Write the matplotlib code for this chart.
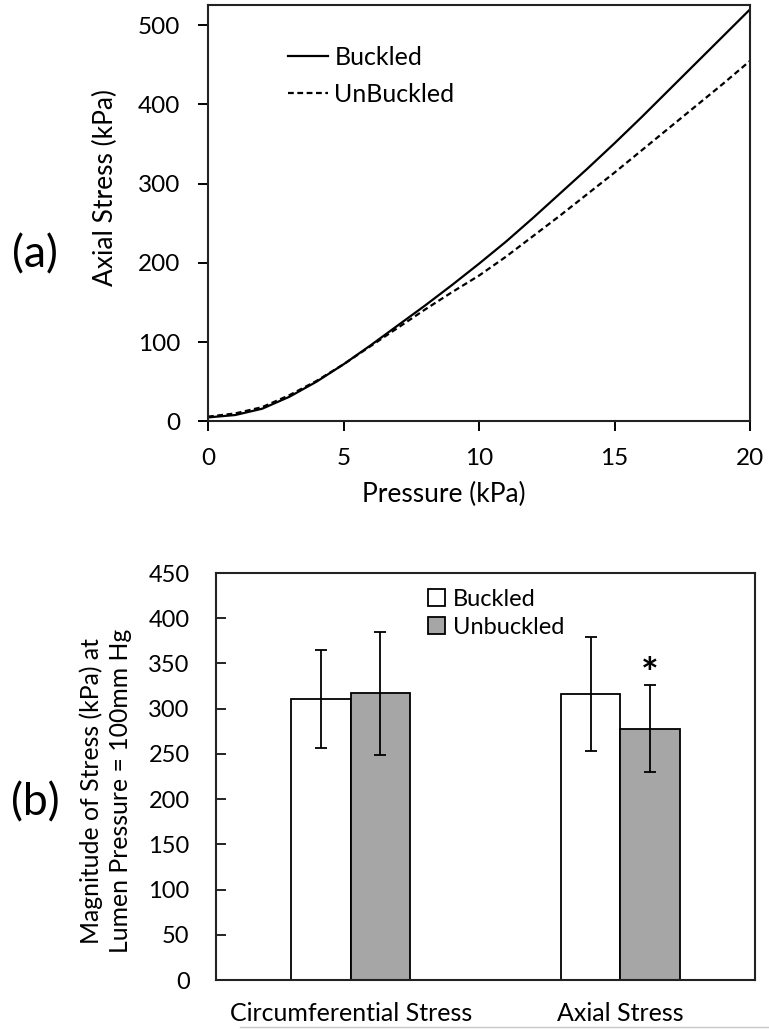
import matplotlib
matplotlib.use("Agg")
import matplotlib.pyplot as plt
from matplotlib.lines import Line2D

plt.rcParams['font.family'] = ['Lato', 'DejaVu Sans']

# ---------------- data ----------------
# (a) axial stress vs. lumen pressure
pressure = [0, 1, 2, 3, 4, 5, 6, 7, 8, 9, 10, 11, 12, 13, 14, 15, 16, 17, 18, 19, 20]
stress_buckled = [5, 8, 16, 31, 50, 72, 96, 121, 146, 172, 199, 227, 257, 288, 319,
                  351, 384, 418, 452, 486, 520]
stress_unbuckled = [6, 10, 18, 33, 51, 72, 95, 118, 141, 163, 184, 208, 234, 260, 287,
                    314, 342, 370, 398, 426, 455]

# (b) stress magnitude at 100 mmHg
categories = ['Circumferential Stress', 'Axial Stress']
bar_buckled = [311, 316]
bar_unbuckled = [317, 278]
err_buckled = [54, 63]
err_unbuckled = [68, 48]

# ---------------- figure ----------------
fig = plt.figure(figsize=(7.69, 10.29), dpi=100)

# --- (a) line plot ---
ax1 = fig.add_axes([0.2705, 0.5905, 0.7048, 0.4046])
ax1.plot(pressure, stress_buckled, color='black', lw=1.6, label='Buckled')
ax1.plot(pressure, stress_unbuckled, color='black', lw=1.6, ls=(0, (2.6, 1.6)),
         label='UnBuckled')
ax1.set_xlim(0, 20)
ax1.set_ylim(0, 525.5)
ax1.set_xticks([0, 5, 10, 15, 20])
ax1.set_yticks([0, 100, 200, 300, 400, 500])
ax1.tick_params(axis='both', direction='out', length=7, width=1.4, labelsize=17.5,
                color='black')
ax1.tick_params(axis='y', pad=13)
ax1.tick_params(axis='x', pad=12)
for sp in ax1.spines.values():
    sp.set_linewidth(1.5)
    sp.set_color('#222222')
ax1.set_xlabel('Pressure (kPa)', fontsize=19)
ax1.xaxis.set_label_coords(0.435, -0.145)
ax1.set_ylabel('Axial Stress (kPa)', fontsize=19)
ax1.yaxis.set_label_coords(-0.166, 0.5625)
leg1 = ax1.legend(loc='upper left', bbox_to_anchor=(0.148, 0.902), frameon=False,
                  fontsize=18, handlelength=1.6, handletextpad=0.25,
                  borderpad=0, borderaxespad=0, labelspacing=0.55)

# --- (b) bar chart ---
ax2 = fig.add_axes([0.2809, 0.0476, 0.7009, 0.3955])
x = range(len(categories))
w = 0.22
xb = [i - w / 2 for i in x]
xu = [i + w / 2 for i in x]
ekw = dict(ecolor='black', elinewidth=1.3, capthick=1.3)
ax2.bar(xb, bar_buckled, w, color='white', edgecolor='black', linewidth=1.3,
        yerr=err_buckled, capsize=4, error_kw=ekw, label='Buckled')
ax2.bar(xu, bar_unbuckled, w, color='#a6a6a6', edgecolor='black', linewidth=1.3,
        yerr=err_unbuckled, capsize=4, error_kw=ekw, label='Unbuckled')
ax2.text(xu[1], bar_unbuckled[1] + err_unbuckled[1] + 10, '*', ha='center',
         va='center', fontsize=30, fontweight='bold')
ax2.set_xlim(-0.5, 1.5)
ax2.set_ylim(0, 450)
ax2.set_yticks(range(0, 451, 50))
ax2.set_xticks(list(x))
ax2.set_xticklabels(categories)
ax2.tick_params(axis='y', direction='in', length=7, width=1.2, labelsize=17, pad=19)
ax2.tick_params(axis='x', length=0, labelsize=18, pad=16)
for sp in ax2.spines.values():
    sp.set_linewidth(1.5)
    sp.set_color('#222222')
ax2.set_ylabel('Magnitude of Stress (kPa) at\nLumen Pressure = 100mm Hg',
               fontsize=17.8, linespacing=1.32)
ax2.yaxis.set_label_coords(-0.155, 0.464)
leg2 = ax2.legend(loc='upper left', bbox_to_anchor=(0.394, 0.962), frameon=False,
                  fontsize=17, handlelength=0.7, handleheight=0.7,
                  handletextpad=0.35, borderpad=0, borderaxespad=0,
                  labelspacing=0.3)

# panel labels
fig.text(0.046, 0.752, '(a)', fontsize=32, ha='center', va='center')
fig.text(0.046, 0.220, '(b)', fontsize=32, ha='center', va='center')

# faint rule along the bottom edge, as in the source image
fig.add_artist(Line2D([240 / 769, 1.0], [0.0018, 0.0018], color='#c8c8c8', lw=1))

fig.savefig('out.png', dpi=100)
